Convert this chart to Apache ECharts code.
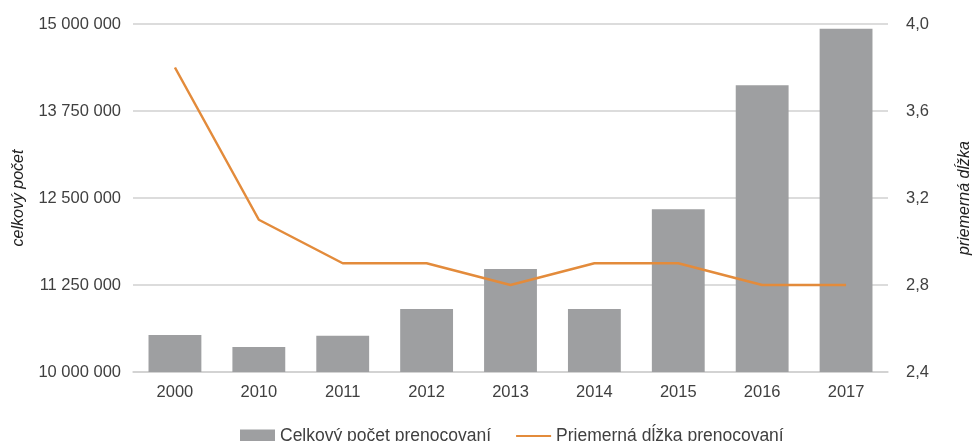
<!DOCTYPE html>
<html>
<head>
<meta charset="utf-8">
<script src="https://cdn.jsdelivr.net/npm/echarts@6/dist/echarts.min.js"></script>
<style>
  html, body { margin: 0; padding: 0; background: #fff; }
  #chart { width: 975px; height: 441px; }
</style>
</head>
<body>
<div id="chart"></div>
<script>
const years = ["2000", "2010", "2011", "2012", "2013", "2014", "2015", "2016", "2017"];
const totalNights = [10530000, 10360000, 10520000, 10905000, 11480000, 10905000, 12340000, 14120000, 14930000];
const avgLength = [3.8, 3.1, 2.9, 2.9, 2.8, 2.9, 2.9, 2.8, 2.8];

const textColor = "#404040";
const gridColor = "#d0d0d0";
const font = "Liberation Sans, Arial, sans-serif";

function fmtSpaces(v) {
  return String(Math.round(v)).replace(/\B(?=(\d{3})+(?!\d))/g, " ");
}

const chartObj = echarts.init(document.getElementById("chart"));
const option = {
  animation: false,
  textStyle: { fontFamily: font },
  grid: { left: 133, right: 87, top: 24, bottom: 69, containLabel: false, outerBoundsMode: "none" },
  legend: {
    left: 235,
    top: 422,
    itemGap: 25,
    itemWidth: 35,
    itemHeight: 13,
    textStyle: { fontSize: 17.5, color: textColor, fontFamily: font },
    data: [
      { name: "Celkový počet prenocovaní", icon: "rect" },
      { name: "Priemerná dĺžka prenocovaní", icon: "path://M0,5.5 L35,5.5 L35,7.5 L0,7.5 Z" }
    ]
  },
  xAxis: [{
    type: "category",
    data: years,
    axisLine: { lineStyle: { color: gridColor, width: 1.5 } },
    axisTick: { show: false },
    axisLabel: { color: textColor, fontSize: 16.5, margin: 12 }
  }],
  yAxis: [
    {
      type: "value",
      min: 10000000,
      max: 15000000,
      interval: 1250000,
      name: "celkový počet",
      nameLocation: "middle",
      nameRotate: 90,
      nameGap: 106,
      nameTextStyle: { fontStyle: "italic", fontSize: 16, color: "#222" },
      axisLine: { show: false },
      axisTick: { show: false },
      axisLabel: { color: textColor, fontSize: 16.5, margin: 12, formatter: fmtSpaces },
      splitLine: { lineStyle: { color: gridColor, width: 1.5 } }
    },
    {
      type: "value",
      min: 2.4,
      max: 4.0,
      interval: 0.4,
      position: "right",
      name: "priemerná dĺžka",
      nameLocation: "middle",
      nameRotate: 90,
      nameGap: 69,
      nameTextStyle: { fontStyle: "italic", fontSize: 16, color: "#222" },
      axisLine: { show: false },
      axisTick: { show: false },
      axisLabel: {
        color: textColor, fontSize: 16.5, margin: 18,
        formatter: function (v) { return v.toFixed(1).replace(".", ","); }
      },
      splitLine: { show: false }
    }
  ],
  series: [
    {
      name: "Celkový počet prenocovaní",
      type: "bar",
      yAxisIndex: 0,
      barWidth: "63%",
      itemStyle: { color: "#9e9fa1" },
      data: totalNights
    },
    {
      name: "Priemerná dĺžka prenocovaní",
      type: "line",
      yAxisIndex: 1,
      symbol: "none",
      lineStyle: { color: "#e38b3b", width: 2.5 },
      itemStyle: { color: "#e38b3b" },
      data: avgLength
    }
  ]
};
chartObj.setOption(option);
</script>
</body>
</html>
